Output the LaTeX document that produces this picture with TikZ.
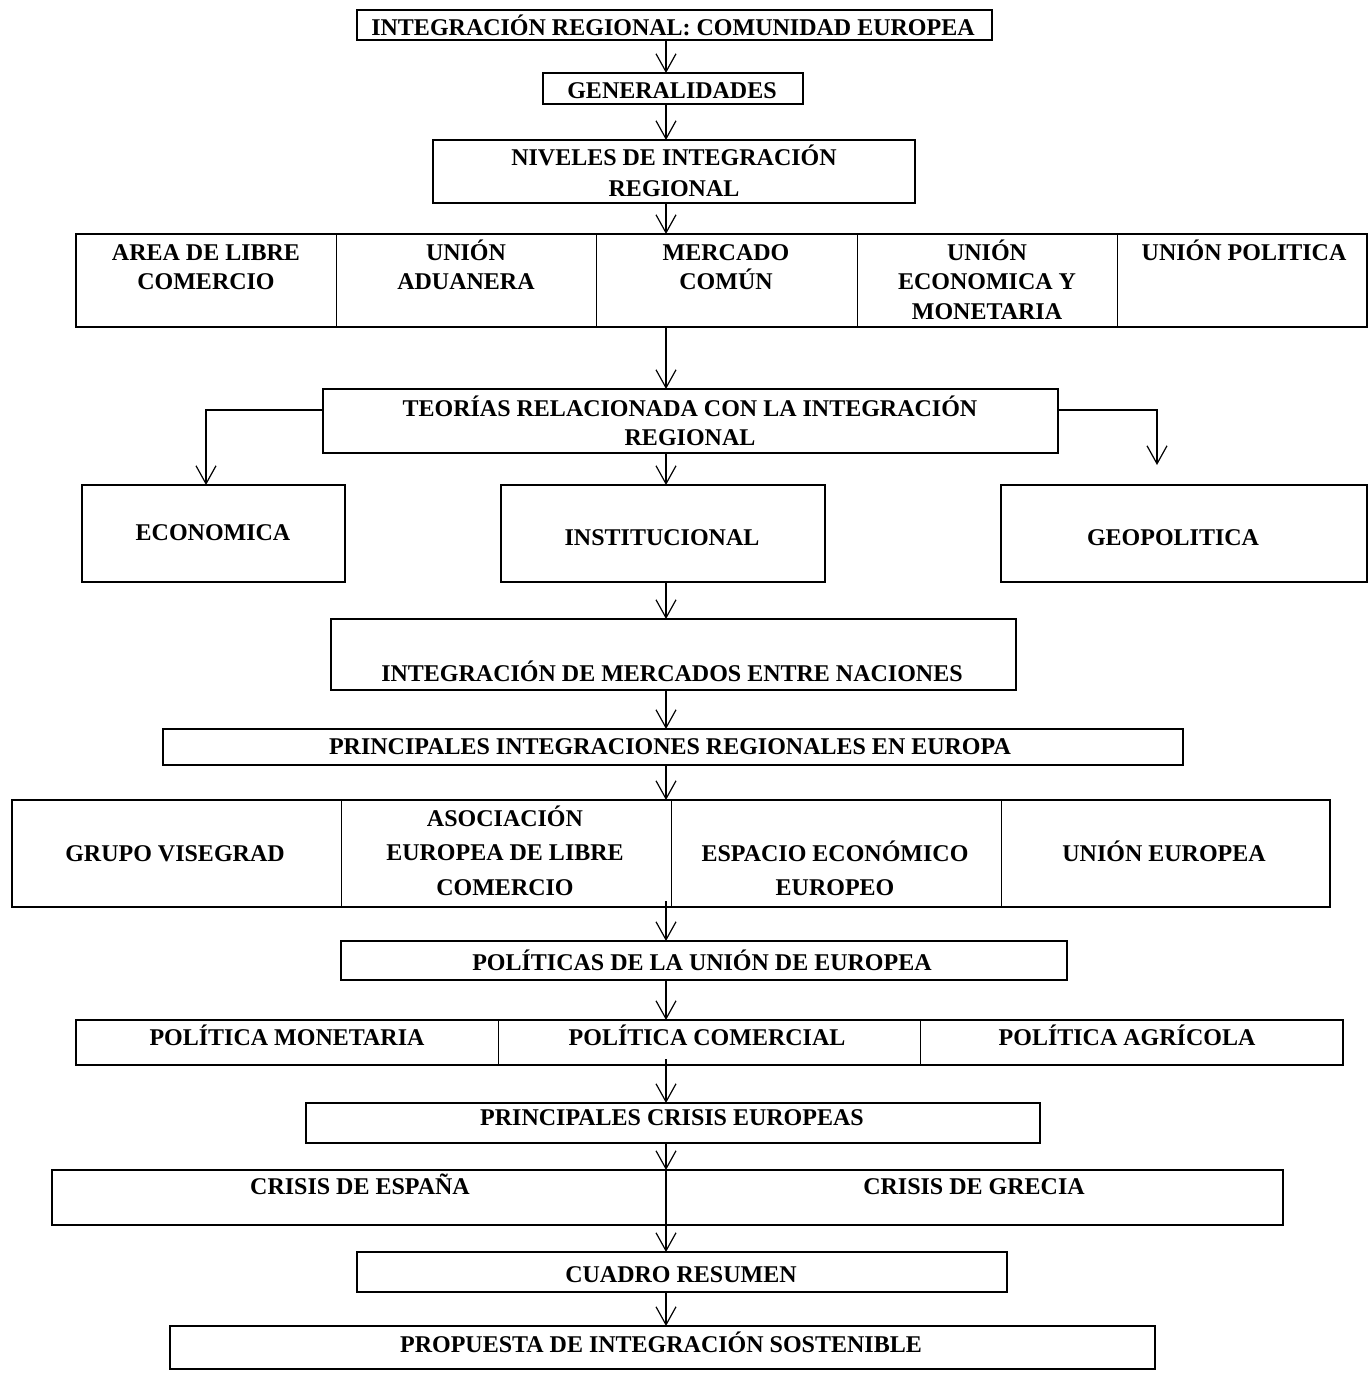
\documentclass[tikz,border=0pt]{standalone}
\usepackage{fontspec}
\setmainfont{Liberation Serif}
\usetikzlibrary{arrows.meta,fit}
\newcommand{\mystrut}{\rule{0pt}{12pt}}
\begin{document}
\begin{tikzpicture}[x=0.5pt,y=-0.5pt,
  bx/.style={draw, line width=0.75pt, inner sep=0pt, outer sep=0pt},
  cellbox/.style={draw, line width=0.5pt, inner sep=0pt, outer sep=0pt},
  framebox/.style={draw, line width=#1, inner sep=0pt, outer sep=0pt},
  txt/.style={font=\fontsize{12}{14.75}\selectfont\bfseries, align=center, inner sep=0pt, anchor=north},
  arr/.style={line width=0.6pt, -{Straight Barb[length=9pt,width=10pt,line width=0.6pt]}},
]
\useasboundingbox (0,0) rectangle (1369,1374);
\coordinate (ax) at (666,0);
\coordinate (by) at (0,410);
\coordinate (lx) at (206,0);
\coordinate (rx) at (1157,465);

% --- top chain
\node[bx, fit={(357,10)(992,40)}] (b1) {};
\node[txt] (t1) at (673,11) {\mystrut INTEGRACIÓN REGIONAL: COMUNIDAD EUROPEA};
\node[bx, fit={(543,73)(803,104)}] (b2) {};
\node[txt] (t2) at (672,74) {\mystrut GENERALIDADES};
\node[bx, fit={(433,140)(915,203)}] (b3) {};
\node[txt, font=\fontsize{12}{15.5}\selectfont\bfseries] (t3) at (674,141) {\mystrut NIVELES DE INTEGRACIÓN\\REGIONAL};

% --- row 1
\node[cellbox, fit={(76,234)(336,327)}] (r1a) {};
\node[cellbox, fit={(336,234)(596,327)}] (r1b) {};
\node[cellbox, fit={(596,234)(857,327)}] (r1c) {};
\node[cellbox, fit={(857,234)(1117,327)}] (r1d) {};
\node[cellbox, fit={(1117,234)(1367,327)}] (r1e) {};
\node[framebox=1pt, fit={(76,234)(1367,327)}] (row1) {};
\node[txt] (tr1a) at (206,236) {\mystrut AREA DE LIBRE\\COMERCIO};
\node[txt] (tr1b) at (466,236) {\mystrut UNIÓN\\ADUANERA};
\node[txt] (tr1c) at (726,236) {\mystrut MERCADO\\COMÚN};
\node[txt] (tr1d) at (987,236) {\mystrut UNIÓN\\ECONOMICA Y\\MONETARIA};
\node[txt] (tr1e) at (1244,236) {\mystrut UNIÓN POLITICA};

% --- theories
\node[bx, fit={(323,389)(1058,453)}] (teo) {};
\node[txt, font=\fontsize{12}{14.5}\selectfont\bfseries] (tteo) at (690,392) {\mystrut TEORÍAS RELACIONADA CON LA INTEGRACIÓN\\REGIONAL};
\node[bx, fit={(82,485)(345,582)}] (econ) {};
\node[txt] (tecon) at (213,516) {\mystrut ECONOMICA};
\node[bx, fit={(501,485)(825,582)}] (inst) {};
\node[txt] (tinst) at (662,521) {\mystrut INSTITUCIONAL};
\node[bx, fit={(1001,485)(1367,582)}] (geo) {};
\node[txt] (tgeo) at (1173,521) {\mystrut GEOPOLITICA};

\node[bx, fit={(331,619)(1016,690)}] (merc) {};
\node[txt] (tmerc) at (672,657) {\mystrut INTEGRACIÓN DE MERCADOS ENTRE NACIONES};
\node[bx, fit={(163,729)(1183,765)}] (princ) {};
\node[txt] (tprinc) at (670,730) {\mystrut PRINCIPALES INTEGRACIONES REGIONALES EN EUROPA};

% --- row 2
\node[cellbox, fit={(12,800)(341,907)}] (r2a) {};
\node[cellbox, fit={(341,800)(671,907)}] (r2b) {};
\node[cellbox, fit={(671,800)(1001,907)}] (r2c) {};
\node[cellbox, fit={(1001,800)(1330,907)}] (r2d) {};
\node[framebox=1pt, fit={(12,800)(1330,907)}] (row2) {};
\node[txt] (tr2a) at (175,837) {\mystrut GRUPO VISEGRAD};
\node[txt, font=\fontsize{12}{17.25}\selectfont\bfseries] (tr2b) at (505,802) {\mystrut ASOCIACIÓN\\EUROPEA DE LIBRE\\COMERCIO};
\node[txt, font=\fontsize{12}{17}\selectfont\bfseries] (tr2c) at (835,837) {\mystrut ESPACIO ECONÓMICO\\EUROPEO};
\node[txt] (tr2d) at (1164,837) {\mystrut UNIÓN EUROPEA};

\node[bx, fit={(341,941)(1067,980)}] (pol) {};
\node[txt] (tpol) at (702,946) {\mystrut POLÍTICAS DE LA UNIÓN DE EUROPEA};

% --- row 3
\node[cellbox, fit={(76,1020)(498,1065)}] (r3a) {};
\node[cellbox, fit={(498,1020)(920,1065)}] (r3b) {};
\node[cellbox, fit={(920,1020)(1343,1065)}] (r3c) {};
\node[framebox=0.75pt, fit={(76,1020)(1343,1065)}] (row3) {};
\node[txt] (tr3a) at (287,1021) {\mystrut POLÍTICA MONETARIA};
\node[txt] (tr3b) at (707,1021) {\mystrut POLÍTICA COMERCIAL};
\node[txt] (tr3c) at (1127,1021) {\mystrut POLÍTICA AGRÍCOLA};

\node[bx, fit={(306,1103)(1040,1143)}] (crisis) {};
\node[txt] (tcrisis) at (672,1101) {\mystrut PRINCIPALES CRISIS EUROPEAS};

% --- row 4
\node[cellbox, fit={(52,1170)(666,1225)}] (r4a) {};
\node[cellbox, fit={(666,1170)(1283,1225)}] (r4b) {};
\node[framebox=0.75pt, fit={(52,1170)(1283,1225)}] (row4) {};
\node[txt] (tr4a) at (360,1170) {\mystrut CRISIS DE ESPAÑA};
\node[txt] (tr4b) at (974,1170) {\mystrut CRISIS DE GRECIA};

\node[bx, fit={(357,1252)(1007,1292)}] (cuadro) {};
\node[txt] (tcuadro) at (681,1258) {\mystrut CUADRO RESUMEN};
\node[bx, fit={(170,1326)(1155,1369)}] (prop) {};
\node[txt] (tprop) at (661,1328) {\mystrut PROPUESTA DE INTEGRACIÓN SOSTENIBLE};

% --- connectors
\draw[arr] (b1.south -| ax) -- (b2.north -| ax);
\draw[arr] (b2.south -| ax) -- (b3.north -| ax);
\draw[arr] (b3.south -| ax) -- (row1.north -| ax);
\draw[arr] (row1.south -| ax) -- (teo.north -| ax);
\draw[arr] (teo.south -| ax) -- (inst.north -| ax);
\draw[arr] (teo.west |- by) -| (econ.north -| lx);
\draw[arr] (teo.east |- by) -| (rx);
\draw[arr] (inst.south -| ax) -- (merc.north -| ax);
\draw[arr] (merc.south -| ax) -- (princ.north -| ax);
\draw[arr] (princ.south -| ax) -- (row2.north -| ax);
\draw[arr, shorten <=-3pt] (row2.south -| ax) -- (pol.north -| ax);
\draw[arr] (pol.south -| ax) -- (row3.north -| ax);
\draw[arr, shorten <=-3pt] (row3.south -| ax) -- (crisis.north -| ax);
\draw[arr] (crisis.south -| ax) -- (row4.north -| ax);
\draw[arr] (row4.north -| ax) -- (cuadro.north -| ax);
\draw[arr] (cuadro.south -| ax) -- (prop.north -| ax);
\end{tikzpicture}
\end{document}
